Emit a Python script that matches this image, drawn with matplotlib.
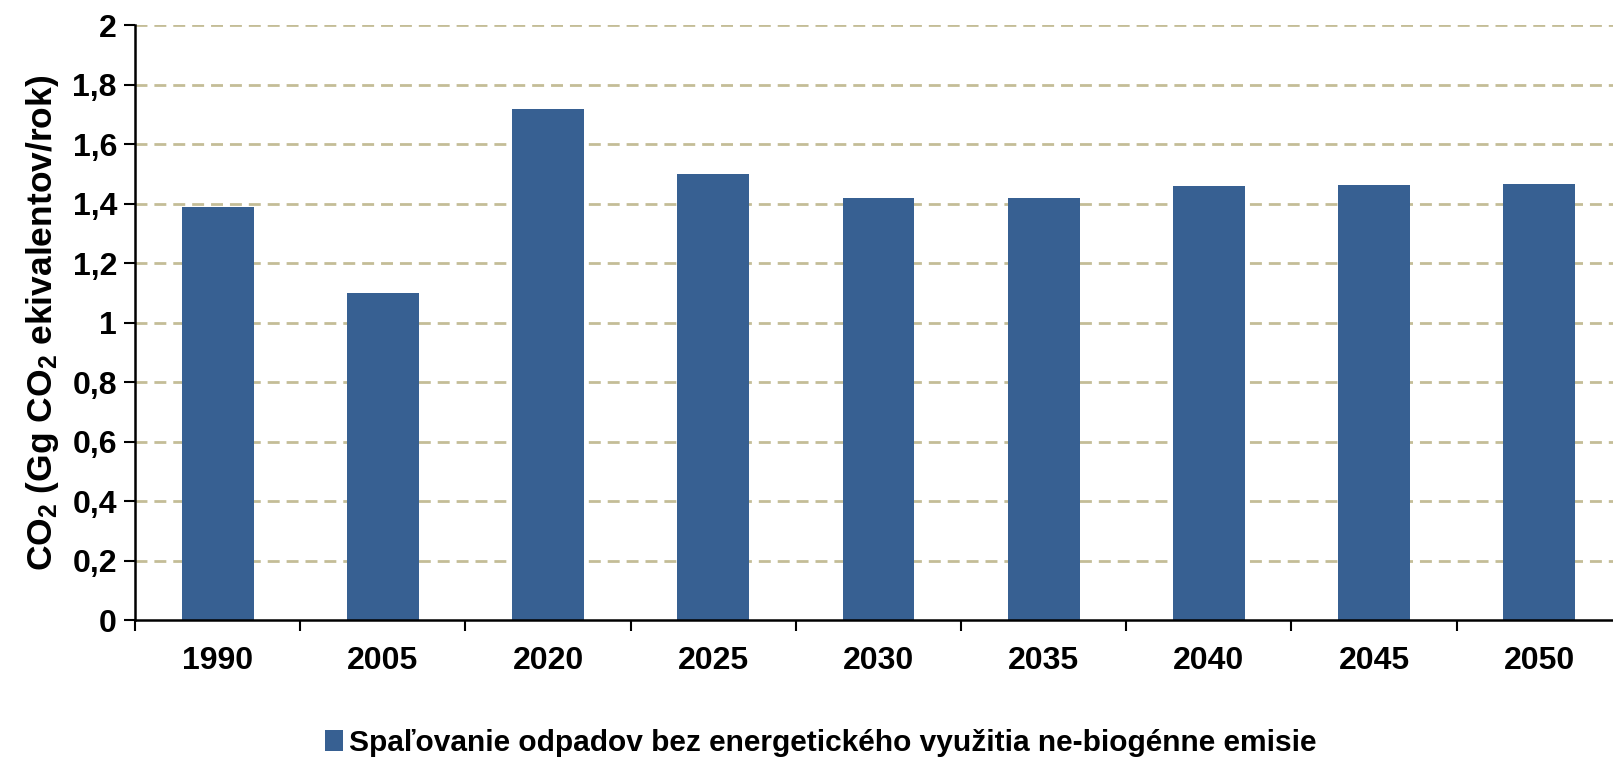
import matplotlib
matplotlib.use('Agg')
import matplotlib.pyplot as plt
import numpy as np

# data
roky = ['1990', '2005', '2020', '2025', '2030', '2035', '2040', '2045', '2050']
emisie = [1.39, 1.10, 1.72, 1.50, 1.42, 1.42, 1.46, 1.465, 1.468]
yticks = [0, 0.2, 0.4, 0.6, 0.8, 1, 1.2, 1.4, 1.6, 1.8, 2]
ytick_labels = ['0', '0,2', '0,4', '0,6', '0,8', '1', '1,2', '1,4', '1,6', '1,8', '2']
legenda = 'Spaľovanie odpadov bez energetického využitia ne-biogénne emisie'

farba = '#376092'
mriezka = '#C4BD97'

plt.rcParams['font.family'] = ['Liberation Sans Narrow', 'Liberation Sans', 'DejaVu Sans']
plt.rcParams['font.weight'] = 'bold'
plt.rcParams['mathtext.fontset'] = 'custom'
plt.rcParams['mathtext.rm'] = 'Liberation Sans:bold'
plt.rcParams['mathtext.it'] = 'Liberation Sans:bold'
plt.rcParams['mathtext.bf'] = 'Liberation Sans:bold'

fig = plt.figure(figsize=(16.13, 7.63), dpi=100)
ax = fig.add_axes([0.0837, 0.1874, 1.0055 - 0.0837, 0.9666 - 0.1874])

x = np.arange(len(roky))
ax.bar(x, emisie, width=0.435, color=farba, zorder=3, label=legenda)

ax.set_xlim(-0.5, len(roky) - 0.5)
ax.set_ylim(0, 2)
ax.set_yticks(yticks)
ax.set_yticklabels(ytick_labels, fontsize=23, fontweight='bold')
ax.set_xticks(x)
ax.set_xticklabels(roky, fontsize=23, fontweight='bold')
ax.set_xticks(np.arange(len(roky) + 1) - 0.5, minor=True)
ax.tick_params(axis='x', which='major', length=0, pad=19)
ax.tick_params(axis='x', which='minor', length=8, width=1.5, direction='out')
ax.tick_params(axis='y', length=8, width=1.5, direction='out', pad=5)

for s in ['top', 'right']:
    ax.spines[s].set_visible(False)
for s in ['left', 'bottom']:
    ax.spines[s].set_linewidth(1.8)
    ax.spines[s].set_zorder(4)

for v in yticks[1:]:
    ax.axhline(v, color=mriezka, lw=2, ls=(0, (4.3, 2.5)), zorder=1)

ax.set_ylabel('CO$_2$ (Gg CO$_2$ ekivalentov/rok)', fontsize=25.5, fontweight='bold', labelpad=8)

fig.legend(loc='center', bbox_to_anchor=(0.509, 0.026), ncol=1, frameon=False,
           handlelength=0.6, handleheight=0.7, handletextpad=0.2,
           prop={'weight': 'bold', 'size': 21.5})

fig.savefig('out.png', dpi=100)
